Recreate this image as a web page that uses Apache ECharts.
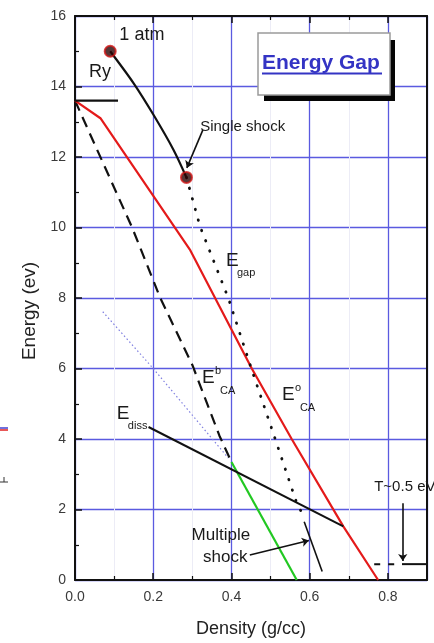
<!DOCTYPE html>
<html>
<head>
<meta charset="utf-8">
<script src="https://cdn.jsdelivr.net/npm/echarts@6/dist/echarts.min.js"></script>
<style>
  html, body { margin: 0; padding: 0; background: #fff; }
  #chart { width: 434px; height: 643px; }
</style>
</head>
<body>
<div id="chart"></div>
<script>
// Energy vs density curves (density in g/cc, energy in eV)
const rydbergLevel = [[0.0, 13.6], [0.11, 13.6]];
const shockPath = [[0.09, 15.0], [0.15, 14.09], [0.201, 13.19], [0.252, 12.2], [0.285, 11.42]];
const shockPoints = [[0.09, 15.0], [0.285, 11.42]];
const eCAo = [[0.0, 13.6], [0.065, 13.1], [0.295, 9.35], [0.452, 6.0], [0.554, 4.0], [0.686, 1.52], [0.775, 0.0]];
const eCAb = [[0.0, 13.6], [0.146, 10.0], [0.218, 8.0], [0.30, 6.1], [0.369, 4.1], [0.40, 3.35]];
const eCAbLow = [[0.40, 3.35], [0.567, 0.0]];
const eGap = [[0.285, 11.42], [0.32, 10.02], [0.392, 8.0], [0.452, 5.96], [0.507, 4.16], [0.567, 2.18], [0.578, 1.95]];
const faintTrend = [[0.071, 7.61], [0.2, 6.0], [0.392, 3.46]];
const eDiss = [[0.188, 4.34], [0.686, 1.52]];
const multiShock = [[0.586, 1.65], [0.632, 0.24]];
const hotDashed = [[0.765, 0.45], [0.836, 0.45]];
const hotSolid = [[0.836, 0.45], [0.9, 0.45]];

// Axis ranges and tick steps
const xRange = [0, 0.9];
const xStep = 0.2;
const yRange = [0, 16];
const yStep = 2;

const FONT = 'Liberation Sans, Arial, Helvetica, sans-serif';
const GRID_BLUE = '#5a5ae0';

const chart = echarts.init(document.getElementById('chart'), null, { renderer: 'canvas' });

const axisBase = {
  type: 'value',
  axisLine: { show: true, onZero: false, lineStyle: { color: '#111', width: 2 } },
  axisTick: { show: true, inside: true, length: 7, lineStyle: { color: '#111', width: 1.5 } },
  minorTick: { show: true, splitNumber: 2, length: 4, lineStyle: { color: '#111', width: 1.2 } },
};

const lineSeries = (data, style, z) => ({
  type: 'line',
  data: data,
  showSymbol: false,
  symbol: 'none',
  silent: true,
  z: z || 2,
  lineStyle: style,
});

const arrow = (from, to) => ({
  coords: [from, to]
});

chart.setOption({
  animation: false,
  backgroundColor: '#fff',
  grid: { left: 75, right: 7, top: 16, bottom: 63 },
  xAxis: [
    Object.assign({}, axisBase, {
      min: xRange[0], max: xRange[1], interval: xStep,
      position: 'bottom',
      name: 'Density (g/cc)',
      nameLocation: 'middle',
      nameGap: 40,
      nameTextStyle: { fontFamily: FONT, fontSize: 18, color: '#222' },
      axisLabel: {
        showMaxLabel: false, margin: 10,
        fontFamily: FONT, fontSize: 14, color: '#3a3a3a',
        formatter: v => v.toFixed(1)
      },
      splitLine: { show: true, lineStyle: { color: GRID_BLUE, width: 1.3 } },
      minorSplitLine: { show: true, lineStyle: { color: '#ececf6', width: 1 } }
    }),
    Object.assign({}, axisBase, {
      min: xRange[0], max: xRange[1], interval: xStep,
      position: 'top',
      axisLabel: { show: false },
      splitLine: { show: false }
    })
  ],
  yAxis: [
    Object.assign({}, axisBase, {
      min: yRange[0], max: yRange[1], interval: yStep,
      position: 'left',
      name: 'Energy (ev)',
      nameLocation: 'middle',
      nameGap: 30,
      nameTextStyle: { fontFamily: FONT, fontSize: 19, color: '#222', padding: [0, 26, 0, 0] },
      axisLabel: { margin: 9, fontFamily: FONT, fontSize: 14, color: '#3a3a3a' },
      splitLine: { show: true, lineStyle: { color: GRID_BLUE, width: 1.3 } },
      minorSplitLine: { show: false }
    }),
    Object.assign({}, axisBase, {
      min: yRange[0], max: yRange[1], interval: yStep,
      position: 'right',
      axisTick: { show: false },
      minorTick: { show: false },
      axisLabel: { show: false },
      splitLine: { show: false }
    })
  ],
  series: [
    lineSeries(faintTrend, { color: '#8080e0', width: 1.2, type: [1.5, 2.5] }, 2),
    lineSeries(eCAb, { color: '#111', width: 2.2, type: [11, 7] }, 3),
    lineSeries(eCAbLow, { color: '#22c822', width: 2.2 }, 3),
    lineSeries(eCAo, { color: '#e41a1a', width: 2.2 }, 4),
    lineSeries(eGap, { color: '#111', width: 2.8, type: [0.5, 10.5], cap: 'round' }, 4),
    lineSeries(eDiss, { color: '#111', width: 2 }, 5),
    lineSeries(multiShock, { color: '#111', width: 1.6 }, 5),
    lineSeries(rydbergLevel, { color: '#111', width: 2.2 }, 5),
    lineSeries(hotDashed, { color: '#111', width: 2, type: [6, 8] }, 5),
    lineSeries(hotSolid, { color: '#111', width: 2 }, 5),
    Object.assign(lineSeries(shockPath, { color: '#111', width: 2.2 }, 5), { smooth: 0.3 }),
    {
      type: 'scatter',
      data: shockPoints,
      symbol: 'circle',
      symbolSize: 11,
      z: 6,
      silent: true,
      itemStyle: { color: '#2a0505', borderColor: '#d01818', borderWidth: 2 }
    },
    {
      type: 'lines',
      coordinateSystem: 'cartesian2d',
      z: 6,
      silent: true,
      symbol: ['none', 'arrow'],
      symbolSize: 7,
      lineStyle: { color: '#111', width: 1.6, opacity: 1 },
      data: [
        arrow([0.327, 12.77], [0.286, 11.69]),
        arrow([0.447, 0.71], [0.598, 1.12]),
        arrow([0.838, 2.18], [0.838, 0.54])
      ]
    }
  ]
});

// Annotation anchors in data coordinates, with pixel offsets for sub/superscripts
const annotations = [
  { at: [0.171, 15.46], parts: [{ t: '1 atm', dx: 0, dy: 0, size: 18, align: 'center' }] },
  { at: [0.064, 14.41], parts: [{ t: 'Ry', dx: 0, dy: 0, size: 18, align: 'center' }] },
  { at: [0.32, 12.85], parts: [{ t: 'Single shock', dx: 0, dy: 0, size: 15, align: 'left' }] },
  { at: [0.386, 9.05], parts: [
    { t: 'E', dx: 0, dy: 0, size: 19, align: 'left' },
    { t: 'gap', dx: 11, dy: 12, size: 11, align: 'left' }] },
  { at: [0.325, 5.73], parts: [
    { t: 'E', dx: 0, dy: 0, size: 19, align: 'left' },
    { t: 'b', dx: 13, dy: -7, size: 11, align: 'left' },
    { t: 'CA', dx: 18, dy: 13, size: 11, align: 'left' }] },
  { at: [0.529, 5.25], parts: [
    { t: 'E', dx: 0, dy: 0, size: 19, align: 'left' },
    { t: 'o', dx: 13, dy: -7, size: 11, align: 'left' },
    { t: 'CA', dx: 18, dy: 13, size: 11, align: 'left' }] },
  { at: [0.107, 4.71], parts: [
    { t: 'E', dx: 0, dy: 0, size: 19, align: 'left' },
    { t: 'diss', dx: 11, dy: 12, size: 11, align: 'left' }] },
  { at: [0.373, 1.28], parts: [{ t: 'Multiple', dx: 0, dy: 0, size: 17, align: 'center' }] },
  { at: [0.384, 0.65], parts: [{ t: 'shock', dx: 0, dy: 0, size: 17, align: 'center' }] },
  { at: [0.765, 2.64], parts: [{ t: 'T~0.5 eV', dx: 0, dy: 0, size: 15, align: 'left' }] }
];

const graphics = [];
annotations.forEach(a => {
  const p = chart.convertToPixel({ gridIndex: 0 }, a.at);
  a.parts.forEach(part => {
    graphics.push({
      type: 'text',
      x: p[0] + part.dx,
      y: p[1] + part.dy,
      z: 20,
      silent: true,
      style: {
        text: part.t,
        fontFamily: FONT,
        fontSize: part.size,
        fill: '#1a1a1a',
        align: part.align,
        verticalAlign: 'middle'
      }
    });
  });
});

// Title box with drop shadow
graphics.push(
  { type: 'rect', z: 30, shape: { x: 264, y: 40, width: 131, height: 61 }, style: { fill: '#050505' } },
  { type: 'rect', z: 31, shape: { x: 258, y: 33, width: 132, height: 62 }, style: { fill: '#fff', stroke: '#9a9a9a', lineWidth: 1.5 } },
  { type: 'text', z: 32, x: 262, y: 63, style: { text: 'Energy Gap', fontFamily: FONT, fontWeight: 'bold', fontSize: 21, fill: '#3434c4', align: 'left', verticalAlign: 'middle' } },
  { type: 'line', z: 32, shape: { x1: 262, y1: 73.5, x2: 382, y2: 73.5 }, style: { stroke: '#3434c4', lineWidth: 2 } }
);

// Small marks along the left page edge
graphics.push(
  { type: 'line', z: 5, shape: { x1: 0, y1: 428, x2: 8, y2: 428 }, style: { stroke: '#4040d0', lineWidth: 1.5 } },
  { type: 'line', z: 5, shape: { x1: 0, y1: 430, x2: 8, y2: 430 }, style: { stroke: '#e02020', lineWidth: 1.5 } },
  { type: 'line', z: 5, shape: { x1: 0, y1: 482, x2: 8, y2: 482 }, style: { stroke: '#333', lineWidth: 1 } },
  { type: 'line', z: 5, shape: { x1: 4, y1: 477, x2: 4, y2: 482 }, style: { stroke: '#333', lineWidth: 1 } }
);

chart.setOption({ graphic: graphics });
</script>
</body>
</html>
